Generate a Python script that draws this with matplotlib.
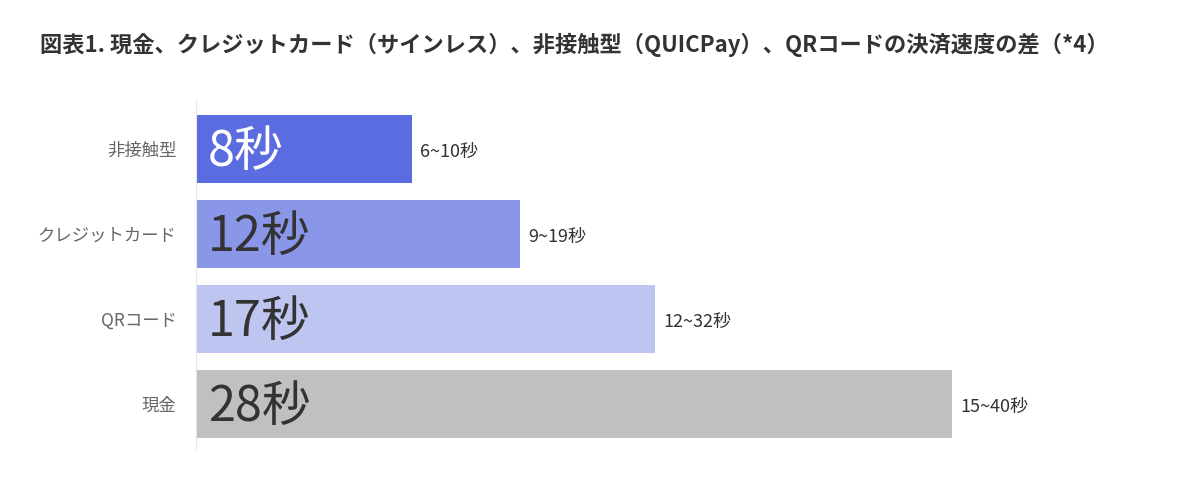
import matplotlib.pyplot as plt

plt.rcParams['font.family'] = ['Noto Sans CJK JP', 'DejaVu Sans']

categories = ['非接触型', 'クレジットカード', 'QRコード', '現金']
seconds = [8, 12, 17, 28]
ranges = ['6~10秒', '9~19秒', '12~32秒', '15~40秒']
colors = ['#5a6cdf', '#8a96e7', '#bec5f1', '#c0c0c0']
inner_text_colors = ['white', '#333333', '#333333', '#333333']


def main():
    fig = plt.figure(figsize=(12, 4.87), dpi=100)
    ax = fig.add_axes([196 / 1200, 37 / 487, (1100 - 196) / 1200, 350 / 487])

    ypos = [3, 2, 1, 0]
    ax.barh(ypos, seconds, height=0.8, color=colors)

    for y, v, r, tc in zip(ypos, seconds, ranges, inner_text_colors):
        ax.text(0.45, y - 0.04, f'{v}秒', color=tc, fontsize=35,
                va='center', ha='left')
        ax.text(v + 0.3, y - 0.03, r, color='#333333', fontsize=13,
                va='center', ha='left')

    ax.set_yticks(ypos)
    ax.set_yticklabels(categories, color='#666666', fontsize=12.5)
    ax.tick_params(axis='y', length=0, pad=14)
    ax.set_xticks([])
    ax.set_xlim(0, (1100 - 196) / 27)
    ax.set_ylim(-0.54, 3.576)
    for s in ['top', 'right', 'bottom']:
        ax.spines[s].set_visible(False)
    ax.spines['left'].set_color('#e6e6e6')

    fig.text(40 / 1200, 1 - 45 / 487,
             '図表1. 現金、クレジットカード（サインレス）、非接触型（QUICPay）、QRコードの決済速度の差（*4）',
             fontsize=16, fontweight='bold', color='#333333', va='center', ha='left')

    fig.savefig('out.png', dpi=100, facecolor='white')


if __name__ == '__main__':
    main()
